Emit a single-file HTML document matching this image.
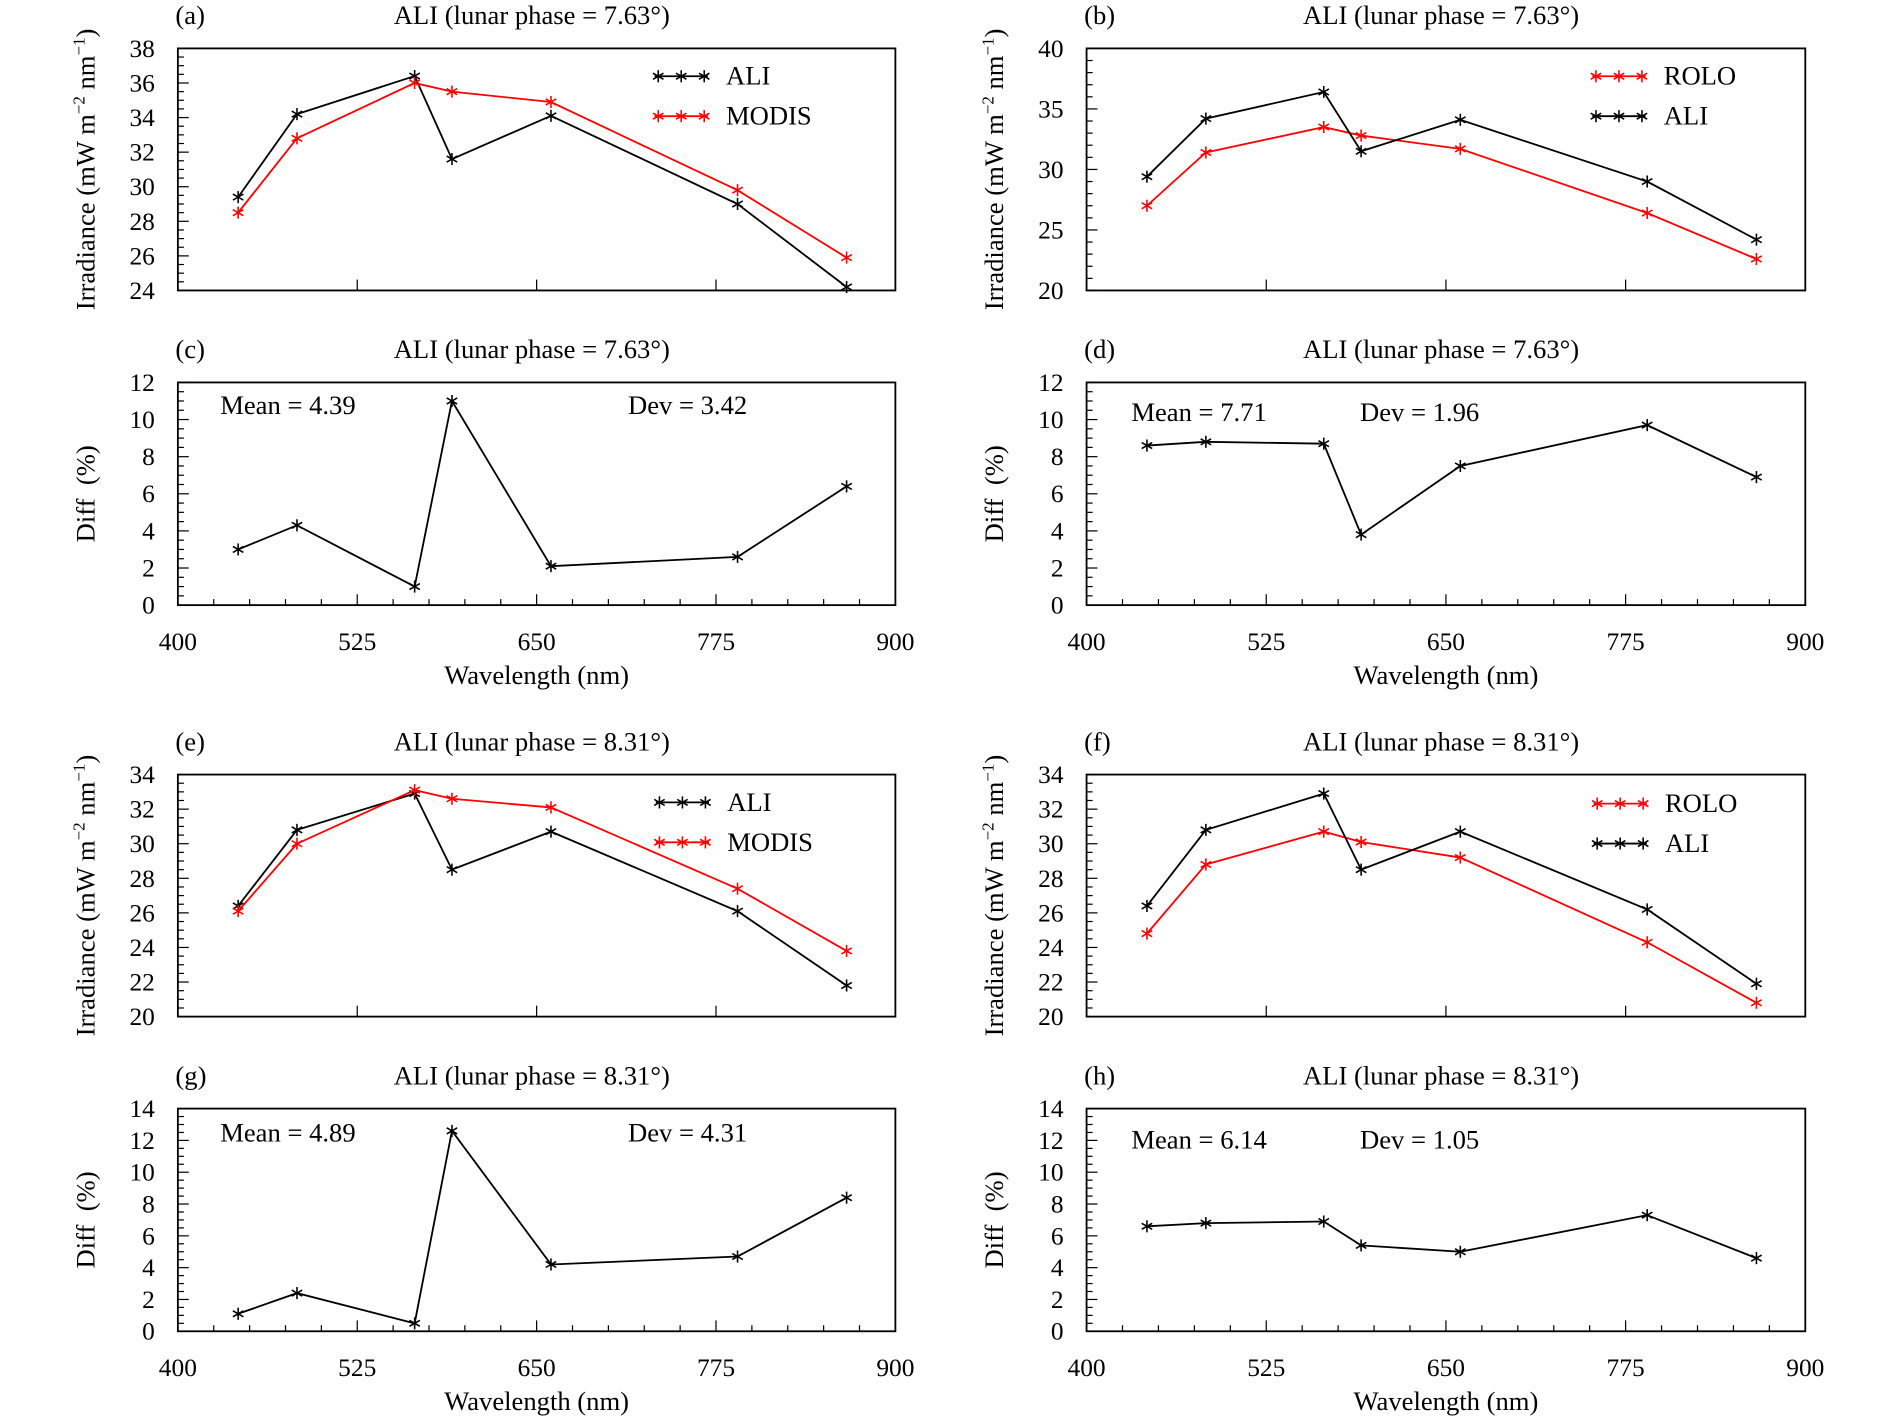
<!DOCTYPE html>
<html><head><meta charset="utf-8"><style>
html,body{margin:0;padding:0;background:#fff;}
svg{display:block;}
svg text{font-family:"Liberation Serif","DejaVu Serif",serif !important;}
</style></head><body>
<svg id="chart" width="1890" height="1416" viewBox="0 0 1562 1170" preserveAspectRatio="none" font-family="Liberation Serif, serif" xmlns="http://www.w3.org/2000/svg"></svg>
<script>
const wavelengths = [442, 483, 565, 591, 660, 790, 866];
const aALI   = [29.4, 34.2, 36.4, 31.6, 34.1, 29.0, 24.2];
const aMODIS = [28.5, 32.8, 36.0, 35.5, 34.9, 29.8, 25.9];
const bROLO  = [27.0, 31.4, 33.5, 32.8, 31.7, 26.4, 22.6];
const bALI   = [29.4, 34.2, 36.4, 31.5, 34.1, 29.0, 24.2];
const cDiff  = [3.0, 4.3, 1.0, 11.0, 2.1, 2.6, 6.4];
const dDiff  = [8.6, 8.8, 8.7, 3.8, 7.5, 9.7, 6.9];
const eALI   = [26.4, 30.8, 32.9, 28.5, 30.7, 26.1, 21.8];
const eMODIS = [26.1, 30.0, 33.1, 32.6, 32.1, 27.4, 23.8];
const fROLO  = [24.8, 28.8, 30.7, 30.1, 29.2, 24.3, 20.8];
const fALI   = [26.4, 30.8, 32.9, 28.5, 30.7, 26.2, 21.9];
const gDiff  = [1.1, 2.4, 0.5, 12.6, 4.2, 4.7, 8.4];
const hDiff  = [6.6, 6.8, 6.9, 5.4, 5.0, 7.3, 4.6];
const xTickLabels = [400, 525, 650, 775, 900];
const irrTicksA = [24,26,28,30,32,34,36,38];
const irrTicksB = [20,25,30,35,40];
const irrTicksE = [20,22,24,26,28,30,32,34];
const diffTicks12 = [0,2,4,6,8,10,12];
const diffTicks14 = [0,2,4,6,8,10,12,14];

const NS="http://www.w3.org/2000/svg";
const svg=document.getElementById('chart');
const FF='"Liberation Serif", serif';
function el(tag,attrs,parent){const e=document.createElementNS(NS,tag);for(const k in attrs)e.setAttribute(k,attrs[k]);if(tag==='text')e.setAttribute('font-family',FF);(parent||svg).appendChild(e);return e;}

function star(g,x,y,color){
  const r=5;
  for(const a of [90,30,150]){
    const dx=r*Math.cos(a*Math.PI/180), dy=r*Math.sin(a*Math.PI/180);
    el('line',{x1:x-dx,y1:y-dy,x2:x+dx,y2:y+dy,stroke:color,'stroke-width':1.3},g);
  }
}

function panel(o){
  const g=el('g',{});
  
  
  const L=o.x0,R=o.x1,T=o.y0,B=o.y1;
  const xs=w=>L+(w-400)/500*(R-L);
  const ys=v=>B-(v-o.ymin)/(o.ymax-o.ymin)*(B-T);
  el('rect',{x:L,y:T,width:R-L,height:B-T,fill:'none',stroke:'#000','stroke-width':1.5},g);
  for(let v=o.ymin; v<=o.ymax+1e-9; v+=o.minor){
    const major=o.ticks.some(t=>Math.abs(t-v)<1e-9);
    el('line',{x1:L,y1:ys(v),x2:L+(major?9:5),y2:ys(v),stroke:'#000','stroke-width':1},g);
  }
  o.ticks.forEach(t=>{
    const tx=el('text',{x:L-19,y:ys(t)+7,'text-anchor':'end','font-size':21},g);
    tx.textContent=t;
    
    
  });
  for(let w=425; w<900; w+=25){
    const major=(w-400)%125===0;
    if(!o.diff && !major) continue;
    el('line',{x1:xs(w),y1:B,x2:xs(w),y2:B-(major?9:5),stroke:'#000','stroke-width':1},g);
  }
  if(o.diff){
    xTickLabels.forEach(t=>{
      const tx=el('text',{x:xs(t),y:B+37,'text-anchor':'middle','font-size':21},g);
      tx.textContent=t;
      
      
    });
    const xl=el('text',{x:(L+R)/2,y:B+65,'text-anchor':'middle','font-size':22},g);
    xl.textContent='Wavelength (nm)';
    
    
  }
  const yc=(T+B)/2, yx=L-69;
  const yt=el('text',{x:yx,y:yc,'text-anchor':'middle','font-size':22,transform:`rotate(-90 ${yx} ${yc})`},g);
  
  
  if(o.diff){ yt.textContent='Diff\u00a0\u00a0(%)'; }
  else{
    yt.innerHTML='Irradiance (mW m<tspan dy="-8" font-size="14">−2</tspan><tspan dy="8"> nm</tspan><tspan dy="-8" font-size="14">−1</tspan><tspan dy="8">)</tspan>';
  }
  const pl=el('text',{x:L-2,y:T-20,'font-size':22},g); pl.textContent=o.label;
   
  const ti=el('text',{x:(L+R)/2-4,y:T-20,'text-anchor':'middle','font-size':22},g); ti.textContent=o.title;
   
  o.series.forEach(s=>{
    const sg=el('g',{},g);
    
    
    const pts=wavelengths.map((w,i)=>xs(w)+','+ys(s.vals[i])).join(' ');
    el('polyline',{points:pts,fill:'none',stroke:s.color,'stroke-width':1.5},sg);
    wavelengths.forEach((w,i)=>star(sg,xs(w),ys(s.vals[i]),s.color));
  });
  if(o.legend){
    o.legend.forEach((lg,i)=>{
      const lgG=el('g',{},g);
      
      
      const ly=o.legY+i*33, lx=o.legX;
      el('line',{x1:lx,y1:ly,x2:lx+44,y2:ly,stroke:lg.color,'stroke-width':1.5},lgG);
      [lx+3,lx+22,lx+41].forEach(x=>star(lgG,x,ly,lg.color));
      const t=el('text',{x:lx+59,y:ly+7,'font-size':22},lgG); t.textContent=lg.text;
    });
  }
  if(o.mean){
    const m=el('text',{x:o.mean[0],y:o.mean[1],'font-size':22},g); m.textContent=o.mean[2];
     
    const d=el('text',{x:o.dev[0],y:o.dev[1],'font-size':22},g); d.textContent=o.dev[2];
     
  }
}

const T1='ALI (lunar phase = 7.63°)', T2='ALI (lunar phase = 8.31°)';
panel({name:'panel-a',label:'(a)',title:T1,x0:147,x1:740,y0:40,y1:240,ymin:24,ymax:38,minor:0.5,ticks:irrTicksA,
  series:[{name:'series-ali',vals:aALI,color:'#000'},{name:'series-modis',vals:aMODIS,color:'#f00'}],
  legend:[{text:'ALI',color:'#000'},{text:'MODIS',color:'#f00'}],legX:541,legY:63});
panel({name:'panel-b',label:'(b)',title:T1,x0:898,x1:1492,y0:40,y1:240,ymin:20,ymax:40,minor:1,ticks:irrTicksB,
  series:[{name:'series-rolo',vals:bROLO,color:'#f00'},{name:'series-ali',vals:bALI,color:'#000'}],
  legend:[{text:'ROLO',color:'#f00'},{text:'ALI',color:'#000'}],legX:1316,legY:63});
panel({name:'panel-c',label:'(c)',title:T1,diff:true,x0:147,x1:740,y0:316,y1:500,ymin:0,ymax:12,minor:0.5,ticks:diffTicks12,
  series:[{name:'series-diff',vals:cDiff,color:'#000'}],mean:[182,342,'Mean = 4.39'],dev:[519,342,'Dev = 3.42']});
panel({name:'panel-d',label:'(d)',title:T1,diff:true,x0:898,x1:1492,y0:316,y1:500,ymin:0,ymax:12,minor:0.5,ticks:diffTicks12,
  series:[{name:'series-diff',vals:dDiff,color:'#000'}],mean:[935,348,'Mean = 7.71'],dev:[1124,348,'Dev = 1.96']});
panel({name:'panel-e',label:'(e)',title:T2,x0:147,x1:740,y0:640,y1:840,ymin:20,ymax:34,minor:0.5,ticks:irrTicksE,
  series:[{name:'series-ali',vals:eALI,color:'#000'},{name:'series-modis',vals:eMODIS,color:'#f00'}],
  legend:[{text:'ALI',color:'#000'},{text:'MODIS',color:'#f00'}],legX:542,legY:663});
panel({name:'panel-f',label:'(f)',title:T2,x0:898,x1:1492,y0:640,y1:840,ymin:20,ymax:34,minor:0.5,ticks:irrTicksE,
  series:[{name:'series-rolo',vals:fROLO,color:'#f00'},{name:'series-ali',vals:fALI,color:'#000'}],
  legend:[{text:'ROLO',color:'#f00'},{text:'ALI',color:'#000'}],legX:1317,legY:664});
panel({name:'panel-g',label:'(g)',title:T2,diff:true,x0:147,x1:740,y0:916,y1:1100,ymin:0,ymax:14,minor:0.5,ticks:diffTicks14,
  series:[{name:'series-diff',vals:gDiff,color:'#000'}],mean:[182,943,'Mean = 4.89'],dev:[519,943,'Dev = 4.31']});
panel({name:'panel-h',label:'(h)',title:T2,diff:true,x0:898,x1:1492,y0:916,y1:1100,ymin:0,ymax:14,minor:0.5,ticks:diffTicks14,
  series:[{name:'series-diff',vals:hDiff,color:'#000'}],mean:[935,949,'Mean = 6.14'],dev:[1124,949,'Dev = 1.05']});
</script>
</body></html>
